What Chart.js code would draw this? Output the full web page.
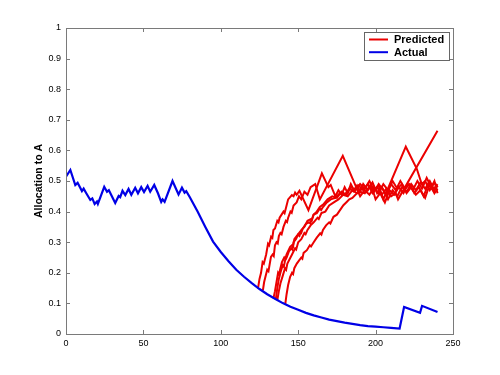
<!DOCTYPE html>
<html>
<head>
<meta charset="utf-8">
<script src="https://cdn.jsdelivr.net/npm/chart.js@4.4.1/dist/chart.umd.min.js"></script>
<style>
  html, body { margin: 0; padding: 0; background: #fff; }
</style>
</head>
<body>
<canvas id="myChart" width="500" height="375"></canvas>
<script>
const xTicks = [0, 50, 100, 150, 200, 250]
const yTicks = [0, 0.1, 0.2, 0.3, 0.4, 0.5, 0.6, 0.7, 0.8, 0.9, 1]
const seriesNames = ["Predicted", "Actual"]
const yTitle = "Allocation to A"

// [step, allocation]
const actual = [[0,0.514],[2.8,0.536],[6,0.487],[7.5,0.494],[10.3,0.467],[11.4,0.475],[13.1,0.46],[15.7,0.438],[17,0.443],
  [18.5,0.425],[20,0.433],[20.6,0.425],[24.7,0.481],[26.5,0.465],[27.7,0.47],[31.8,0.428],[34,0.451],[35,0.447],[36.5,0.468],
  [38.3,0.454],[40.4,0.474],[42.2,0.455],[44.7,0.478],[46.5,0.46],[48.6,0.48],[50.4,0.464],[52.7,0.484],[54.4,0.465],[57,0.487],
  [59.4,0.46],[61.5,0.432],[62.4,0.44],[63.7,0.432],[68.8,0.5],[72.7,0.456],[74.9,0.478],[76.6,0.462],[77.7,0.467],
  [80,0.447],[85,0.4],[90,0.35],[95,0.302],[100,0.268],[105,0.238],[110,0.21],[115,0.187],[120,0.166],[125,0.147],
  [130,0.13],[135,0.115],[140,0.101],[145,0.089],[150,0.079],[155,0.069],[160,0.061],[165,0.054],[170,0.047],[175,0.042],
  [180,0.037],[185,0.033],[190,0.029],[195,0.026],[200,0.024],[205,0.022],[210,0.02],[215.5,0.018],[218.4,0.088],
  [228.7,0.069],[230,0.092],[240,0.072]]

const pred1 = [[124,0.148],[125,0.18],[126,0.2],[127,0.235],[127.8,0.23],[129.3,0.26],[130.5,0.295],[131.2,0.29],[132.5,0.318],
  [133.3,0.314],[134,0.34],[135,0.345],[136.5,0.37],[137.3,0.365],[138,0.38],[140.5,0.4],[141.2,0.395],[142,0.41],[143.5,0.44],
  [145.9,0.454],[147,0.45],[148,0.462],[149,0.455],[150.8,0.468],[156.6,0.405],[165.3,0.525],[169.5,0.48],[171,0.487],[174,0.45],
  [176,0.47],[178,0.455],[180,0.48],[182,0.46],[184,0.49],[186,0.47],[188,0.485],[190,0.465],[192,0.49],[195,0.47],[198,0.495],
  [201,0.46],[204,0.48],[207,0.455],[210,0.49],[213,0.47],[216,0.5],[219,0.475],[222,0.49],[225,0.46],[228,0.48],[231,0.45],
  [234,0.49],[237,0.47],[240,0.49]]

const pred2 = [[127.2,0.143],[128,0.17],[129,0.19],[130,0.21],[130.8,0.205],[132.4,0.252],[133.5,0.26],[134.2,0.255],[135,0.29],
  [136,0.3],[136.8,0.296],[137.5,0.32],[138.5,0.33],[139.3,0.326],[140.5,0.35],[142,0.37],[142.8,0.366],[143.5,0.38],[145,0.4],
  [145.8,0.396],[147,0.42],[149,0.43],[150.5,0.45],[152,0.44],[154,0.465],[156,0.455],[158,0.48],[161,0.49],[164,0.44],
  [178.8,0.582],[190,0.45],[193,0.47],[196,0.455],[199,0.48],[202,0.46],[205,0.49],[208,0.47],[211,0.5],[214,0.475],[217,0.49],
  [220,0.46],[223,0.48],[226,0.455],[229,0.47],[232,0.445],[235,0.49],[238,0.46],[240,0.475]]

const pred3 = [[134,0.116],[135,0.14],[136,0.17],[137,0.2],[137.6,0.195],[138.3,0.21],[139.5,0.235],[141,0.25],[141.7,0.245],
  [142.5,0.26],[144.8,0.285],[146,0.29],[146.7,0.286],[147.5,0.31],[149,0.32],[151.3,0.335],[152,0.331],[153,0.345],[155,0.36],
  [157,0.365],[157.8,0.361],[159.9,0.39],[162,0.395],[164,0.41],[164.8,0.405],[166,0.415],[168.5,0.43],[171,0.44],[174,0.445],
  [177,0.46],[180,0.455],[183,0.475],[186,0.465],[189,0.485],[192,0.47],[195,0.49],[198,0.46],[201,0.48],[204,0.455],
  [207,0.475],[210,0.45],[213,0.46],[214.5,0.44],[240,0.664]]

const pred4 = [[135.5,0.112],[136.5,0.15],[137.5,0.18],[138.5,0.2],[140,0.225],[140.7,0.22],[141.5,0.24],[142.5,0.25],[144,0.27],
  [145.5,0.28],[146.2,0.276],[147,0.3],[148.5,0.31],[150,0.325],[150.8,0.321],[152,0.34],[154,0.35],[156,0.37],[158,0.375],
  [158.8,0.371],[160,0.39],[162,0.4],[164,0.415],[166.5,0.425],[169,0.44],[172,0.45],[175,0.445],[178,0.465],[181,0.455],
  [184,0.48],[187,0.47],[190,0.49],[193,0.475],[196,0.5],[199,0.47],[202,0.485],[205,0.44],[219.5,0.612],[226.6,0.54],
  [229.8,0.49],[232,0.5],[235,0.47],[238,0.495],[240,0.48]]

const pred5 = [[136.5,0.11],[137.5,0.14],[138.5,0.165],[140,0.19],[141.5,0.215],[142.2,0.21],[143,0.23],[144.5,0.245],[146,0.26],
  [148,0.28],[148.7,0.276],[150,0.3],[152,0.31],[154,0.33],[154.8,0.326],[156,0.34],[158,0.355],[160,0.365],[162.5,0.38],
  [163.3,0.376],[165,0.395],[167.5,0.4],[170,0.42],[173,0.43],[176,0.44],[179,0.455],[182,0.45],[185,0.47],[188,0.46],
  [191,0.48],[194,0.465],[197,0.49],[200,0.44],[203,0.46],[206,0.43],[209,0.47],[212,0.455],[215,0.48],[218,0.46],[221,0.49],
  [224,0.47],[227,0.5],[230,0.475],[233,0.51],[236,0.48],[238,0.5],[240,0.46]]

const pred6 = [[141.6,0.096],[142.5,0.13],[143.5,0.16],[144.8,0.187],[146,0.2],[146.7,0.196],[147.5,0.215],[149.1,0.23],
  [150.5,0.24],[152,0.25],[152.7,0.246],[153.5,0.265],[155.6,0.274],[157.5,0.29],[158.3,0.286],[160,0.3],[162,0.315],
  [164.2,0.329],[165,0.325],[166,0.34],[168,0.355],[170,0.365],[170.8,0.361],[172.8,0.383],[175,0.39],[177,0.405],
  [179.2,0.421],[181,0.43],[183,0.44],[185,0.445],[187.9,0.46],[190,0.465],[193,0.46],[196,0.48],[199,0.465],[202,0.49],
  [205,0.47],[208,0.44],[211,0.47],[214,0.45],[217,0.48],[220,0.465],[223,0.49],[226,0.47],[229,0.495],[232,0.475],[235,0.5],
  [238,0.47],[240,0.485]]

const predictedRuns = [pred1, pred2, pred3, pred4, pred5, pred6]

const red = 'rgb(235, 0, 0)'
const blue = 'rgb(0, 0, 230)'
const axisColor = '#7a7a7a'
const fontFam = 'Arial, "Liberation Sans", sans-serif'

function toPoints(arr) {
  return arr.map(p => ({x: p[0], y: p[1]}))
}

let datasets = [{
  label: seriesNames[1],
  data: toPoints(actual),
  borderColor: blue,
  borderWidth: 2.2,
  pointRadius: 0,
  tension: 0,
  fill: false
}]
predictedRuns.forEach((run, i) => {
  datasets.push({
    label: seriesNames[0],
    data: toPoints(run),
    borderColor: red,
    borderWidth: 2,
    pointRadius: 0,
    tension: 0,
    fill: false
  })
})

// matlab style ticks pointing inwards, plus the box round the plot
const innerTicks = {
  id: 'innerTicks',
  afterDraw(chart) {
    const {ctx, chartArea: a, scales} = chart
    const len = 4
    ctx.save()
    ctx.strokeStyle = axisColor
    ctx.lineWidth = 1
    ctx.strokeRect(Math.round(a.left) + 0.5, Math.round(a.top) + 0.5, Math.round(a.width), Math.round(a.height))
    ctx.beginPath()
    xTicks.forEach(v => {
      const px = Math.round(scales.x.getPixelForValue(v)) + 0.5
      ctx.moveTo(px, a.bottom); ctx.lineTo(px, a.bottom - len)
      ctx.moveTo(px, a.top); ctx.lineTo(px, a.top + len)
    })
    yTicks.forEach(v => {
      const py = Math.round(scales.y.getPixelForValue(v)) + 0.5
      ctx.moveTo(a.left, py); ctx.lineTo(a.left + len, py)
      ctx.moveTo(a.right, py); ctx.lineTo(a.right - len, py)
    })
    ctx.stroke()
    ctx.restore()
  }
}

// legend box in the upper right corner of the plot
const legendBox = {
  id: 'legendBox',
  afterDraw(chart) {
    const {ctx, chartArea: a} = chart
    const w = 85, h = 28
    const bx = a.right - 4 - w, by = a.top + 4
    ctx.save()
    ctx.fillStyle = '#fff'
    ctx.fillRect(bx, by, w, h)
    ctx.strokeStyle = '#666'
    ctx.lineWidth = 1
    ctx.strokeRect(Math.round(bx) + 0.5, Math.round(by) + 0.5, w, h)
    const rows = [[seriesNames[0], red], [seriesNames[1], blue]]
    ctx.font = 'bold 11px ' + fontFam
    ctx.textBaseline = 'middle'
    rows.forEach((r, i) => {
      const ly = by + 7.5 + i * 12.7
      ctx.strokeStyle = r[1]
      ctx.lineWidth = 2
      ctx.beginPath()
      ctx.moveTo(bx + 5, ly)
      ctx.lineTo(bx + 24, ly)
      ctx.stroke()
      ctx.fillStyle = '#000'
      ctx.fillText(r[0], bx + 30, ly + 0.5)
    })
    ctx.restore()
  }
}

const cvs = document.getElementById('myChart')
new Chart(cvs, {
  type: 'line',
  data: { datasets: datasets },
  options: {
    responsive: false,
    animation: false,
    layout: { padding: { left: 33, top: 28, right: 47, bottom: 0 } },
    plugins: {
      legend: { display: false },
      tooltip: { enabled: false }
    },
    scales: {
      x: {
        type: 'linear',
        min: 0,
        max: 250,
        afterBuildTicks: s => { s.ticks = xTicks.map(v => ({value: v})) },
        afterFit: s => { s.height = 41 },
        grid: { display: false, drawTicks: false },
        border: { display: false },
        ticks: { color: '#000', padding: 4, maxRotation: 0, font: { family: fontFam, size: 9 } }
      },
      y: {
        type: 'linear',
        min: 0,
        max: 1,
        afterBuildTicks: s => { s.ticks = yTicks.map(v => ({value: v})) },
        afterFit: s => { s.width = 33 },
        grid: { display: false, drawTicks: false },
        border: { display: false },
        ticks: {
          color: '#000',
          padding: 5,
          font: { family: fontFam, size: 9 },
          callback: v => String(Math.round(v * 10) / 10)
        },
        title: {
          display: true,
          text: yTitle,
          color: '#000',
          padding: 0,
          font: { family: fontFam, size: 10.5, weight: 'bold' }
        }
      }
    }
  },
  plugins: [innerTicks, legendBox]
})
</script>
</body>
</html>
